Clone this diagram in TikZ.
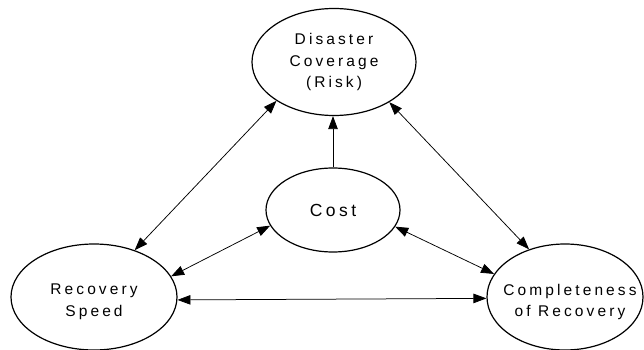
\documentclass[tikz,border=0pt]{standalone}
\usepackage{fontspec}
\setmainfont{Liberation Sans}[LetterSpace=20]
\usetikzlibrary{arrows.meta,shapes.geometric}
\begin{document}
\begin{tikzpicture}[x=1pt,y=-1pt,
  bubble/.style={draw,ellipse,line width=1.2pt,inner sep=0pt},
  txt/.style={align=center,inner sep=0pt,font=\fontsize{15.5}{21.5}\selectfont},
  link/.style={line width=0.75pt,{Triangle[length=13pt,width=9.5pt]}-{Triangle[length=13pt,width=9.5pt]}},
  onelink/.style={line width=0.75pt,-{Triangle[length=13pt,width=9.5pt]}}]
\useasboundingbox (0,0) rectangle (644,350);
\node[bubble,minimum width=164pt,minimum height=107pt] (dc) at (334,62) {};
\node[txt] (dct) at (334,62) {Disaster\\Coverage\\(Risk)};
\node[bubble,minimum width=134pt,minimum height=84pt] (cost) at (333,210) {};
\node[txt,font=\fontsize{17.5}{21}\selectfont] (costt) at (333,210) {Cost};
\node[bubble,minimum width=166pt,minimum height=106pt] (rs) at (94,297) {};
\node[txt] (rst) at (94,302) {Recovery\\Speed};
\node[bubble,minimum width=156pt,minimum height=106pt] (cr) at (565,297) {};
\node[txt] (crt) at (570,302) {Completeness\\of Recovery};
\draw[link] (rs.49.5) -- (dc.214.8);
\draw[link] (dc.324) -- (cr.127.6);
\draw[link] (cost.194.2) -- (rs.15.9);
\draw[link] (cost.345) -- (cr.162.5);
\draw[link] (rs.358.6) -- (cr.181.5);
\draw[onelink] (cost.north) -- (cost.north |- dc.south);
\end{tikzpicture}
\end{document}
